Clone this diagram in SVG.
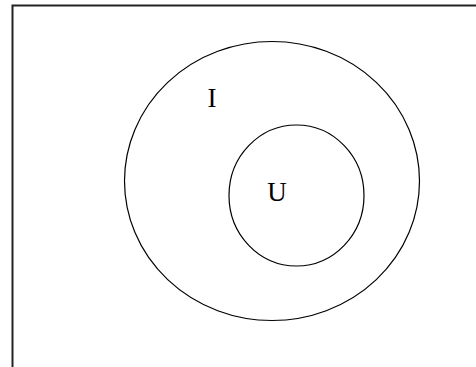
<svg xmlns="http://www.w3.org/2000/svg" width="476" height="367" viewBox="0 0 476 367">
<style>
.c{fill:none;stroke:#000;stroke-width:1.2}
.t{font-family:"Liberation Serif",serif;font-size:27px;fill:#000;text-anchor:middle}
</style>
<rect width="476" height="367" fill="#fff"/>
<g id="frame"><path d="M12.5,367 V5.5 H476" fill="none" stroke="#222" stroke-width="2"/></g>
<g id="I"><ellipse class="c" cx="272" cy="181" rx="147.5" ry="139.5"/><text class="t" x="212" y="107">I</text></g>
<g id="U"><ellipse class="c" cx="296.5" cy="195.5" rx="67.5" ry="70.5"/><text class="t" x="277" y="201">U</text></g>
</svg>
